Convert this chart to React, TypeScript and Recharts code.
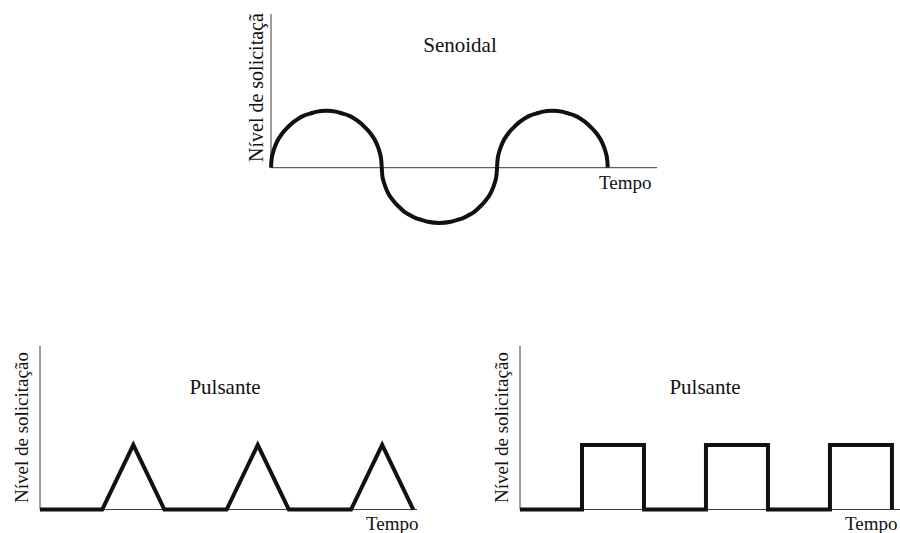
import { Line, LineChart, ReferenceLine, XAxis, YAxis } from 'recharts'

// Values. Tempo in half-cycles (top) or
// arbitrary time steps (bottom); nivel is the normalised load level.
const sineTempo = [
  0, 0.005, 0.02, 0.05, 0.1, 0.15, 0.2, 0.25, 0.3, 0.35, 0.4, 0.495,
  0.59, 0.64, 0.69, 0.74, 0.79, 0.84, 0.89, 0.94, 0.97, 0.985, 0.99,
  0.995, 1.011, 1.042, 1.093, 1.145, 1.196, 1.248, 1.299, 1.35, 1.402, 1.505,
  1.608, 1.66, 1.711, 1.762, 1.814, 1.865, 1.917, 1.968, 1.999, 2.015, 2.02,
  2.025, 2.04, 2.07, 2.12, 2.17, 2.22, 2.27, 2.32, 2.37, 2.42, 2.515,
  2.61, 2.66, 2.71, 2.76, 2.81, 2.86, 2.91, 2.96, 2.99, 3.005, 3.01,
]
const sineNivel = [
  0, 0.14, 0.28, 0.44, 0.6, 0.71, 0.8, 0.87, 0.92, 0.95, 0.98, 1,
  0.98, 0.95, 0.92, 0.87, 0.8, 0.71, 0.6, 0.44, 0.28, 0.14, 0,
  -0.14, -0.27, -0.43, -0.58, -0.69, -0.78, -0.84, -0.89, -0.92, -0.95, -0.97,
  -0.95, -0.92, -0.89, -0.84, -0.78, -0.69, -0.58, -0.43, -0.27, -0.14, 0,
  0.14, 0.28, 0.44, 0.6, 0.71, 0.8, 0.87, 0.92, 0.95, 0.98, 1,
  0.98, 0.95, 0.92, 0.87, 0.8, 0.71, 0.6, 0.44, 0.28, 0.14, 0,
]

const triTempo = [0, 2, 3, 4, 6, 7, 8, 10, 11, 12]
const triNivel = [0, 0, 1, 0, 0, 1, 0, 0, 1, 0]

const squareTempo = [0, 2, 4, 6, 8, 10, 12]
const squareNivel = [0, 1, 0, 1, 0, 1, 0]

const yLabel = 'Nível de solicitação'
const yLabelTop = 'Nível de solicitaçã'
const xLabel = 'Tempo'
const titleTop = 'Senoidal'
const titleBottom = 'Pulsante'

const zip = (tempo: number[], nivel: number[]) =>
  tempo.map((t, i) => ({ tempo: t, nivel: nivel[i] }))

const FONT = '"Liberation Serif", "Times New Roman", serif'
const AXIS = '#3a3a3a'
const INK = '#111'

type Curve = 'monotone' | 'linear' | 'stepAfter'

// One waveform: a bare plot area with an L-shaped axis drawn at y = 0.
function Wave({
  left,
  top,
  width,
  height,
  xMax,
  yMin,
  yMax,
  data,
  curve,
}: {
  left: number
  top: number
  width: number
  height: number
  xMax: number
  yMin: number
  yMax: number
  data: { tempo: number; nivel: number }[]
  curve: Curve
}) {
  const pad = 12
  return (
    <div style={{ position: 'absolute', left: left - pad, top: top - pad }}>
      <LineChart
        width={width + 2 * pad}
        height={height + 2 * pad}
        data={data}
        margin={{ top: pad, right: pad, bottom: pad, left: pad }}
      >
        <XAxis type="number" dataKey="tempo" domain={[0, xMax]} hide />
        <YAxis type="number" domain={[yMin, yMax]} hide />
        <ReferenceLine y={0} stroke={AXIS} strokeWidth={1} />
        <ReferenceLine
          segment={[
            { x: 0, y: 0 },
            { x: 0, y: yMax },
          ]}
          stroke={AXIS}
          strokeWidth={1}
        />
        <Line
          type={curve}
          dataKey="nivel"
          stroke={INK}
          strokeWidth={4}
          dot={false}
          activeDot={false}
          isAnimationActive={false}
        />
      </LineChart>
    </div>
  )
}

export default function App() {
  return (
    <div
      style={{
        position: 'absolute',
        left: 0,
        top: 0,
        width: 900,
        height: 533,
        overflow: 'hidden',
        background: '#fff',
      }}
    >
      <Wave
        left={271}
        top={14}
        width={386}
        height={222}
        xMax={3.45}
        yMin={-1.2}
        yMax={2.7}
        data={zip(sineTempo, sineNivel)}
        curve="monotone"
      />
      <Wave
        left={40}
        top={346}
        width={377}
        height={170}
        xMax={12.12}
        yMin={-0.1}
        yMax={2.53}
        data={zip(triTempo, triNivel)}
        curve="linear"
      />
      <Wave
        left={520}
        top={346}
        width={380}
        height={170}
        xMax={12.26}
        yMin={-0.1}
        yMax={2.53}
        data={zip(squareTempo, squareNivel)}
        curve="stepAfter"
      />

      <svg
        width={900}
        height={533}
        style={{ position: 'absolute', left: 0, top: 0, pointerEvents: 'none' }}
      >
        <g style={{ fontFamily: FONT }} fill="#111">
          <text x={460} y={52} textAnchor="middle" fontSize={21}>
            {titleTop}
          </text>
          <text x={599} y={189} fontSize={19}>
            {xLabel}
          </text>
          <text transform="translate(262.5,162) rotate(-90)" fontSize={20}>
            {yLabelTop}
          </text>

          <text x={225} y={394} textAnchor="middle" fontSize={21}>
            {titleBottom}
          </text>
          <text x={366} y={530} fontSize={19}>
            {xLabel}
          </text>
          <text transform="translate(28,503) rotate(-90)" fontSize={19}>
            {yLabel}
          </text>

          <text x={705} y={394} textAnchor="middle" fontSize={21}>
            {titleBottom}
          </text>
          <text x={845} y={530} fontSize={19}>
            {xLabel}
          </text>
          <text transform="translate(508,503) rotate(-90)" fontSize={19}>
            {yLabel}
          </text>
        </g>
      </svg>
    </div>
  )
}
